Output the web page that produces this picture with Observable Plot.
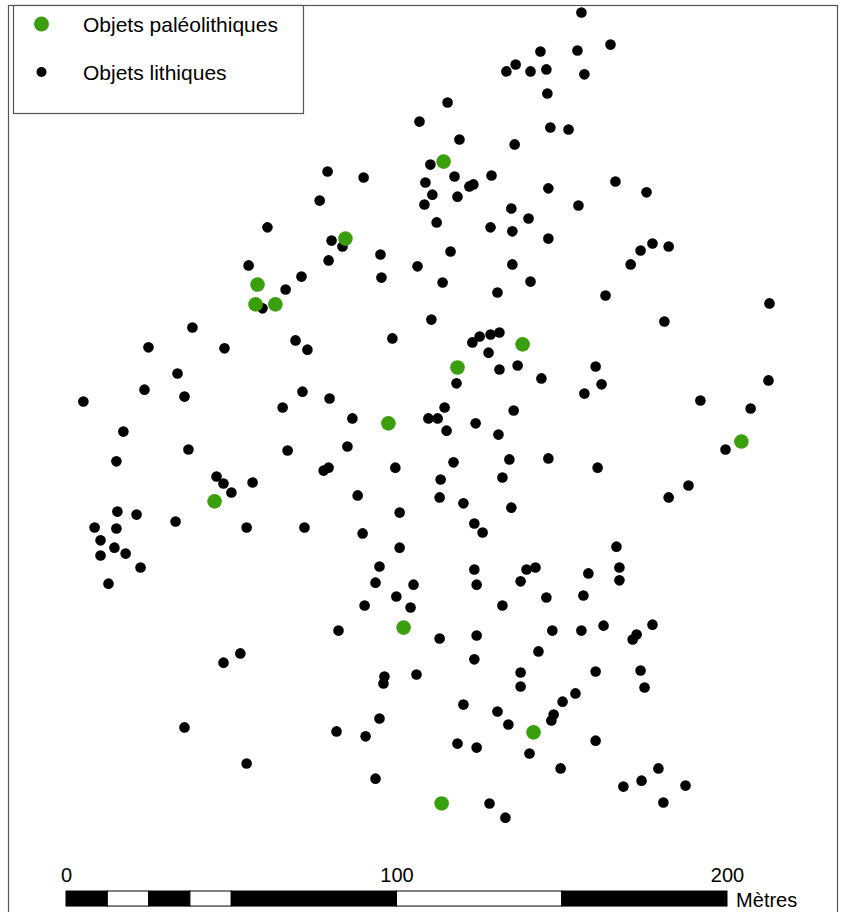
<!DOCTYPE html>
<html>
<head>
<meta charset="utf-8">
<script src="https://cdn.jsdelivr.net/npm/d3@7"></script>
<script src="https://cdn.jsdelivr.net/npm/@observablehq/plot@0.6"></script>
<style>
  body { margin: 0; background: #fff; }
  #chart { width: 842px; height: 912px; }
</style>
</head>
<body>
<div id="chart"></div>
<script>
// ---- Data (coordinates in metres: x = easting from scale origin, y = northing) ----
const legendLabels = ["Objets paléolithiques", "Objets lithiques"];
const legendColors = ["#3a9f0c", "#000000"];

// Objets paléolithiques [x, y]
const paleo = [
  [114.1, 227.2], [84.4, 203.9], [57.8, 190.0], [57.2, 184.0], [63.2, 184.0],
  [138.0, 171.9], [118.3, 164.9], [97.4, 148.0], [204.2, 142.5], [44.8, 124.4],
  [102.0, 86.2], [141.3, 54.5], [113.5, 33.0]
];

// Objets lithiques [x, y]
const lithic = [
  [155.8, 272.3], [164.6, 262.6], [143.4, 260.5], [154.6, 260.8], [135.9, 256.6],
  [133.1, 254.5], [140.4, 254.5], [145.2, 255.1], [156.7, 253.6], [145.5, 247.8],
  [115.3, 245.1], [106.8, 239.3], [146.4, 237.5], [151.9, 236.9], [118.9, 233.9],
  [135.6, 232.4], [110.1, 226.3], [79.0, 224.2], [89.9, 222.4], [117.4, 222.7],
  [128.6, 223.0], [166.1, 221.2], [108.6, 220.9], [123.1, 220.3], [121.9, 219.7],
  [145.8, 219.1], [175.5, 217.9], [110.7, 217.2], [118.3, 216.6], [76.6, 215.4],
  [108.3, 214.2], [134.6, 213.0], [154.9, 213.9], [139.8, 210.0], [112.0, 208.8],
  [60.8, 207.3], [128.3, 207.3], [134.9, 206.1], [145.8, 203.9], [80.2, 203.3],
  [83.5, 201.5], [177.3, 202.4], [182.2, 201.5], [173.7, 200.3], [95.0, 199.1],
  [116.2, 200.0], [79.3, 197.3], [55.1, 195.8], [106.2, 195.5], [134.9, 196.1],
  [170.7, 196.1], [71.1, 192.4], [95.3, 192.1], [113.8, 190.6], [140.4, 190.9],
  [66.3, 188.5], [130.4, 187.6], [163.1, 186.7], [59.3, 182.8], [212.7, 184.3],
  [110.4, 179.4], [180.9, 178.8], [38.1, 177.0], [69.3, 173.1], [98.6, 173.7],
  [125.0, 174.3], [128.3, 174.9], [131.0, 175.5], [122.8, 172.5], [24.8, 171.0],
  [47.8, 170.7], [72.9, 170.3], [127.7, 169.4], [136.5, 165.5], [131.0, 164.3],
  [160.1, 165.2], [33.6, 163.1], [143.7, 161.6], [212.4, 161.0], [118.0, 160.1],
  [161.9, 159.8], [23.6, 158.2], [71.4, 157.6], [156.7, 157.0], [35.7, 156.1],
  [79.6, 155.5], [5.1, 154.6], [191.8, 154.9], [65.4, 152.8], [114.4, 152.8],
  [207.0, 152.5], [135.3, 151.9], [86.5, 149.5], [109.5, 149.5], [112.3, 149.5],
  [123.8, 148.0], [115.0, 145.8], [17.2, 145.5], [130.7, 144.6], [85.0, 141.0],
  [36.9, 140.1], [66.9, 139.8], [199.4, 140.1], [145.8, 137.4], [134.0, 137.1],
  [117.1, 136.2], [15.1, 136.5], [160.7, 134.6], [79.3, 134.6], [77.8, 133.7],
  [99.5, 134.6], [45.4, 131.9], [113.2, 131.0], [131.9, 131.6], [47.5, 129.8],
  [56.3, 130.1], [188.2, 129.2], [49.9, 127.1], [88.1, 126.2], [112.9, 125.6],
  [182.2, 125.6], [120.1, 123.8], [134.6, 122.5], [15.4, 121.3], [21.2, 120.4],
  [100.8, 121.0], [33.0, 118.3], [8.5, 116.5], [15.1, 116.2], [54.5, 116.5],
  [72.0, 116.5], [123.4, 117.7], [89.6, 114.7], [125.9, 115.0], [10.3, 112.6],
  [14.5, 110.4], [100.8, 110.4], [166.4, 110.7],
  [10.3, 108.0], [17.9, 108.6], [22.4, 104.4], [12.7, 99.5], [94.7, 104.7],
  [123.4, 103.8], [139.2, 103.8], [141.9, 104.4], [167.3, 104.4], [157.9, 102.6],
  [167.3, 100.5], [93.5, 99.8], [105.0, 99.2], [124.1, 99.2], [137.4, 100.2],
  [99.8, 95.6], [145.2, 95.3], [156.4, 95.9], [90.2, 92.9], [104.1, 92.3],
  [131.9, 92.9], [82.3, 85.3], [147.0, 85.3], [155.8, 85.3], [162.5, 86.8],
  [177.3, 87.1], [172.5, 84.1], [171.3, 82.6], [124.1, 83.8], [112.9, 82.9],
  [52.6, 78.4], [142.8, 79.0], [47.5, 75.6], [123.4, 76.6], [105.9, 72.0],
  [96.2, 71.4], [95.9, 69.3], [137.4, 72.6], [160.1, 72.9], [173.7, 73.2],
  [137.4, 68.4], [174.9, 68.1], [154.0, 66.3], [150.1, 63.8], [120.1, 62.9],
  [130.4, 60.8], [147.4, 59.9], [146.7, 58.1], [94.7, 58.7], [133.7, 56.9],
  [35.7, 56.0], [81.7, 54.8], [90.5, 53.3], [160.1, 52.0], [118.3, 51.1],
  [124.1, 49.9], [140.1, 48.1], [54.5, 45.1], [149.5, 43.6], [179.1, 43.6],
  [93.5, 40.5], [174.0, 39.9], [168.5, 38.1], [187.3, 38.4], [128.0, 33.0],
  [180.6, 33.3], [132.8, 28.7]
];

// Scale bar (metres)
const scaleBreaks = [0, 12.5, 25, 37.5, 50, 100, 150, 200];
const scaleLabels = [0, 100, 200];
const scaleUnit = "Mètres";

// ---- Layout ----
const W = 842, H = 912;
const PX_PER_M = 3.305;   // map scale
const X0 = 66;            // pixel position of 0 m on the scale bar
const FONT = "'Liberation Sans', Arial, Helvetica, sans-serif";

const segments = scaleBreaks.slice(0, -1).map((a, i) => ({
  a, b: scaleBreaks[i + 1], fill: i % 2 === 0 ? "black" : "white"
}));
const toPts = arr => arr.map(([x, y]) => ({x, y}));

const chart = Plot.plot({
  width: W,
  height: H,
  margin: 0,
  style: {fontFamily: FONT, background: "white", color: "black"},
  x: {domain: [-X0 / PX_PER_M, (W - X0) / PX_PER_M], axis: null},
  y: {domain: [0, H / PX_PER_M], axis: null},
  marks: [
    Plot.rect(segments, {x1: "a", x2: "b", y1: 1.8, y2: 6.35, fill: "fill", stroke: "black", strokeWidth: 1}),
    Plot.text(scaleLabels, {x: d => d, y: 11.2, text: d => String(d), fontSize: 20, fill: "black"}),
    Plot.text([scaleUnit], {x: 202.6, y: 3.6, text: d => d, textAnchor: "start", fontSize: 20, fill: "black"}),
    Plot.dot(toPts(lithic), {x: "x", y: "y", r: 5.3, fill: legendColors[1]}),
    Plot.dot(toPts(paleo), {x: "x", y: "y", r: 7.3, fill: legendColors[0]})
  ]
});

// Frame and legend overlay
const svg = d3.select(chart);
svg.append("rect")
  .attr("x", 8.5).attr("y", 5.5).attr("width", 829).attr("height", 1000)
  .attr("fill", "none").attr("stroke", "#555").attr("stroke-width", 1.2);
const lg = svg.append("g").attr("text-anchor", "start");
lg.append("rect")
  .attr("x", 13.5).attr("y", 5.5).attr("width", 290).attr("height", 108)
  .attr("fill", "white").attr("stroke", "#555").attr("stroke-width", 1.2);
const legendRows = [
  {label: legendLabels[0], color: legendColors[0], r: 7.5, cy: 24, base: 32},
  {label: legendLabels[1], color: legendColors[1], r: 5, cy: 72, base: 80}
];
legendRows.forEach(d => {
  lg.append("circle").attr("cx", 41.5).attr("cy", d.cy).attr("r", d.r).attr("fill", d.color);
  lg.append("text").attr("x", 83).attr("y", d.base)
    .attr("text-anchor", "start")
    .attr("font-family", FONT).attr("font-size", 21).attr("fill", "black")
    .text(d.label);
});

document.getElementById("chart").appendChild(chart);
</script>
</body>
</html>
